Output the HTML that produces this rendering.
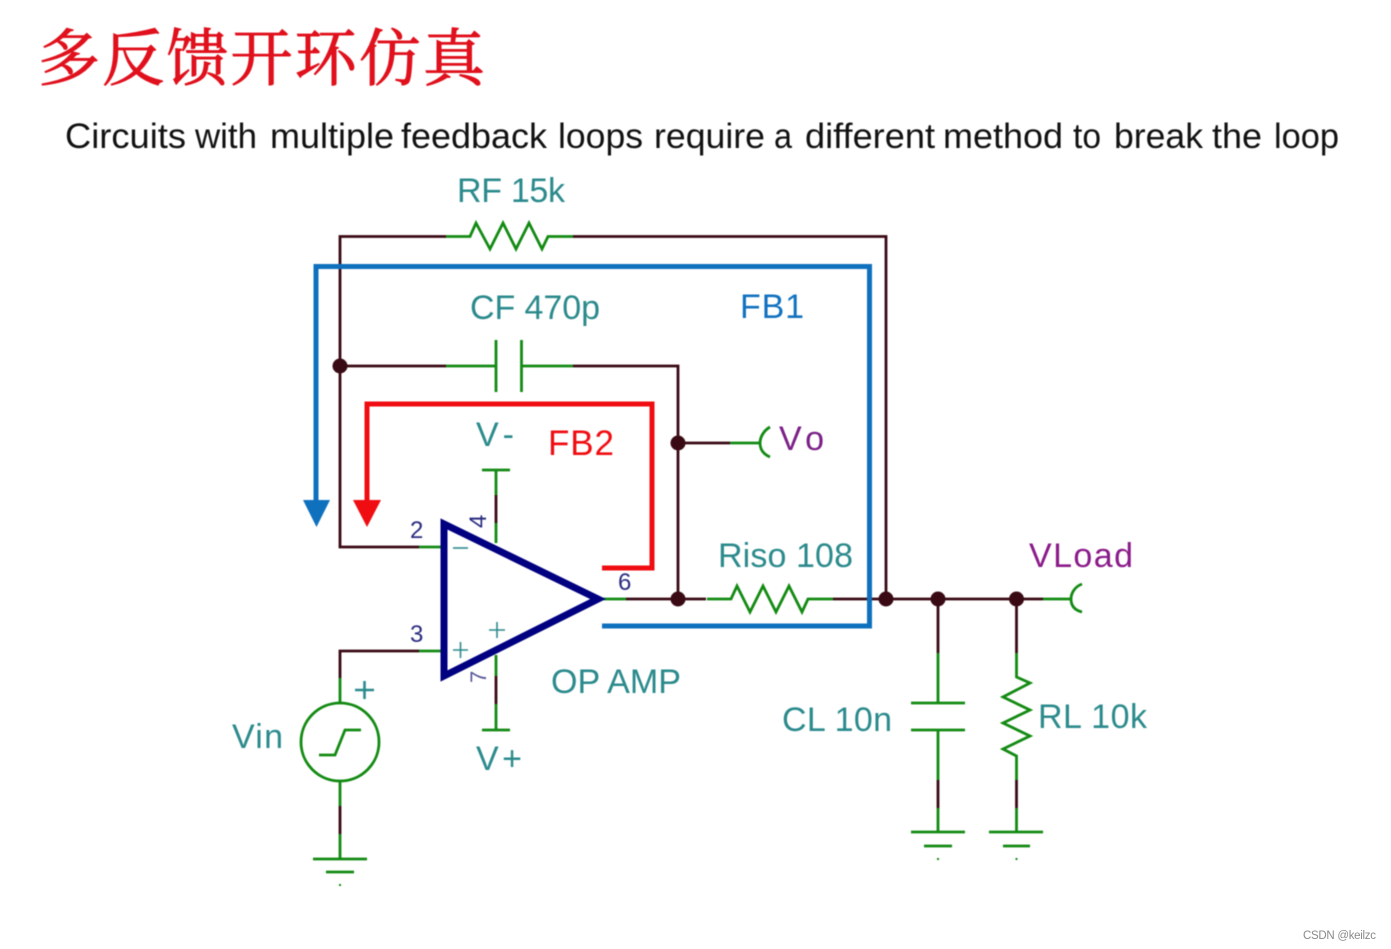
<!DOCTYPE html>
<html><head><meta charset="utf-8"><style>
html,body{margin:0;padding:0;background:#fff;width:1391px;height:949px;overflow:hidden}
svg{display:block}
text{font-family:"Liberation Sans",sans-serif}
.t{fill:#2b8a8c;font-size:34px}
.n{fill:#2a2a80;font-size:24px}
.d{stroke:#3a0a14;stroke-width:2.800;fill:none}
.g{stroke:#128a12;stroke-width:2.800;fill:none}
.s{font-size:35.5px;fill:#111}
.b{filter:blur(.45px)}
</style></head><body>
<svg width="1391" height="949" viewBox="0 0 1391 949" xmlns="http://www.w3.org/2000/svg">
<rect width="1391" height="949" fill="#fff"/>
<g class="b">
<text x="38" y="80" font-size="62" font-weight="400" fill="#e0101c" stroke="#e0101c" stroke-width="1" textLength="447" lengthAdjust="spacing" style="font-family:'Noto Serif CJK SC',serif">多反馈开环仿真</text>
<text class="s" x="65" y="148" textLength="121" lengthAdjust="spacingAndGlyphs">Circuits</text>
<text class="s" x="195" y="148" textLength="62" lengthAdjust="spacingAndGlyphs">with</text>
<text class="s" x="270" y="148" textLength="124" lengthAdjust="spacingAndGlyphs">multiple</text>
<text class="s" x="401" y="148" textLength="146" lengthAdjust="spacingAndGlyphs">feedback</text>
<text class="s" x="558" y="148" textLength="85" lengthAdjust="spacingAndGlyphs">loops</text>
<text class="s" x="654" y="148" textLength="111" lengthAdjust="spacingAndGlyphs">require</text>
<text class="s" x="774" y="148" textLength="18" lengthAdjust="spacingAndGlyphs">a</text>
<text class="s" x="805" y="148" textLength="130" lengthAdjust="spacingAndGlyphs">different</text>
<text class="s" x="943" y="148" textLength="120" lengthAdjust="spacingAndGlyphs">method</text>
<text class="s" x="1073" y="148" textLength="28" lengthAdjust="spacingAndGlyphs">to</text>
<text class="s" x="1114" y="148" textLength="89" lengthAdjust="spacingAndGlyphs">break</text>
<text class="s" x="1212" y="148" textLength="50" lengthAdjust="spacingAndGlyphs">the</text>
<text class="s" x="1274" y="148" textLength="65" lengthAdjust="spacingAndGlyphs">loop</text>

<!-- dark wires -->
<path class="d" d="M446 236.500H340V547H419M573 236.500H886V599M446 366H340M573 366H678V599M730 443H678M626 599H706M833 599H1043M419 651H340V678M938 599V653M1016.500 599V653M496 495V523M496 676V704M340 806V834M938 780V808M1016.500 780V808"/>
<!-- green wires -->
<path class="g" d="M446 236.500H470L476 223L490 249L503 223L516 249L529 223L542 249L548 236.500H573M446 366H496M496 340V392M521.500 340V392M521.500 366H573M730 443H760M770 427C763 431 760 438 760 443C760 449 763 454 770 457M419 547H442M419 651H442M602 599H626M707 599H731L737 586L750 612L763 586L776 612L789 586L802 612L808 599H833M1043 599H1071M1082 584C1074 587 1071 594 1071 599C1071 605 1074 610 1082 612M482 470H510M496 470V495M496 523V543M496 655V676M496 704V730M482 730H510M340 678V703M340 781V806M340 834V859M313 859H367M326 872H354M319 755H335L345 730H361M938 653V703M911 703H965M911 730H965M938 730V780M938 808V832M911 832H965M924 846H952M1016.500 653V677L1030 683L1003 697L1030 710L1003 723L1030 736L1003 749L1016.500 756V780M1016.500 808V832M989 832H1043M1003 846H1030"/>
<circle cx="340" cy="742" r="39" class="g"/>
<rect x="339" y="884" width="2" height="2" fill="#128a12"/>
<rect x="937" y="858" width="2" height="2" fill="#128a12"/>
<rect x="1015.500" y="858" width="2" height="2" fill="#128a12"/>

<!-- junctions -->
<g fill="#3a0a14">
<circle cx="340" cy="366" r="7.500"/><circle cx="678" cy="443" r="7.500"/><circle cx="678" cy="599" r="7.500"/>
<circle cx="886" cy="599" r="7.500"/><circle cx="938" cy="599" r="7.500"/><circle cx="1016.500" cy="599" r="7.500"/>
</g>

<!-- feedback paths -->
<path d="M316 502V266.500H869.500V626H602" fill="none" stroke="#0f70bd" stroke-width="5"/>
<polygon points="303,500 330,500 316.500,527" fill="#0f70bd"/>
<path d="M367 502V404H652V568H602" fill="none" stroke="#f00d12" stroke-width="5"/>
<polygon points="353,500 381,500 367,527" fill="#f00d12"/>

<text class="n" transform="translate(486,683) rotate(-90)" x="0" y="0" style="font-size:22px" fill-opacity=".8">7</text>
<!-- op amp -->
<polygon points="444,524 444,676 598,599" fill="#fff" stroke="#000080" stroke-width="7" stroke-linejoin="miter"/>
<path d="M453 548H468" stroke="#2b8a8c" stroke-width="1.600"/>
<path d="M453 650H468M460.500 642V658M489 630H505M497 622V638" stroke="#2b8a8c" stroke-width="1.600"/>

<text class="n" x="410" y="538">2</text>
<text class="n" x="410" y="642">3</text>
<text class="n" x="618" y="590">6</text>
<text class="n" transform="translate(486,528) rotate(-90)" x="0" y="0">4</text>

<text class="t" x="457" y="202" textLength="108">RF 15k</text>
<text class="t" x="470" y="319" textLength="130">CF 470p</text>
<text x="740" y="318" font-size="34" fill="#1272bf" textLength="64">FB1</text>
<text x="548" y="455" font-size="35" fill="#f00d12" textLength="66">FB2</text>
<text class="t" x="476" y="446" textLength="38">V-</text>
<text x="779" y="450" font-size="34" fill="#7a1f86" textLength="45">Vo</text>
<text class="t" x="718" y="567" textLength="135">Riso 108</text>
<text x="1029" y="567" font-size="34" fill="#8a1a8a" textLength="104">VLoad</text>
<text class="t" x="551" y="693" textLength="130" lengthAdjust="spacingAndGlyphs">OP AMP</text>
<text class="t" x="782" y="731" textLength="110">CL 10n</text>
<text class="t" x="1038" y="728" textLength="109">RL 10k</text>
<text class="t" x="232" y="748" textLength="51">Vin</text>
<text class="t" x="476" y="770" textLength="46">V+</text>
<path d="M355 690H374M364.500 681V699" stroke="#2b8a8c" stroke-width="2.600"/>
</g>
<text x="1303" y="939" font-size="11.500" fill="#8a8a8a" textLength="73">CSDN @keilzc</text>
</svg>
</body></html>
